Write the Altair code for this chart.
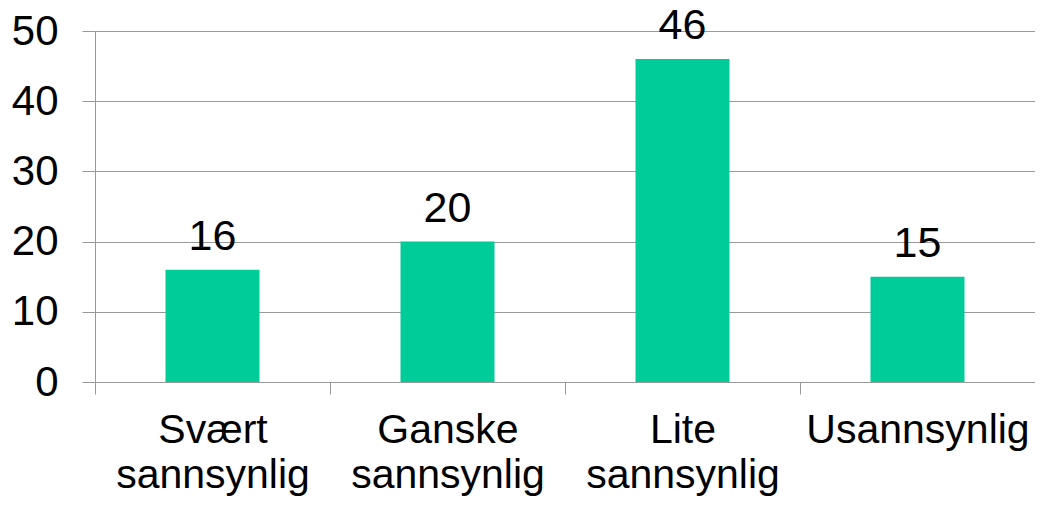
import altair as alt
import pandas as pd

categories = ["Svært sannsynlig", "Ganske sannsynlig", "Lite sannsynlig", "Usannsynlig"]
values = [16, 20, 46, 15]

df = pd.DataFrame({"cat": categories, "val": values})

FONT = "Liberation Sans"
FS = 41

x = alt.X("cat:N", sort=categories, title=None,
          scale=alt.Scale(paddingInner=0, paddingOuter=0),
          axis=alt.Axis(labelAngle=0, labelFont=FONT, labelFontSize=FS, labelColor="black",
                        labelExpr="split(datum.label, ' ')", labelLineHeight=45, labelLimit=0,
                        tickBand="extent", tickSize=12, tickColor="#999999", domainColor="#999999",
                        labelPadding=16, grid=False, labelBaseline="top"))

y = alt.Y("val:Q", title=None,
          scale=alt.Scale(domain=[0, 50]),
          axis=alt.Axis(values=[0, 10, 20, 30, 40, 50], labelFont=FONT, labelFontSize=FS + 1, labelColor="black",
                        tickSize=13, tickColor="#999999", domainColor="#999999",
                        gridColor="#999999", labelPadding=24))

bars = alt.Chart(df).mark_bar(color="#00CC99", width=alt.RelativeBandSize(0.4)).encode(x=x, y=y)
text = alt.Chart(df).mark_text(font=FONT, fontSize=43, baseline="alphabetic", dy=-20, color="black").encode(
    x=alt.X("cat:N", sort=categories), y="val:Q", text="val:Q")

chart = (bars + text).properties(
    width=940, height=351,
    autosize=alt.AutoSizeParams(type="none"),
    padding={"left": 87, "top": 23, "right": 0, "bottom": 116},
).configure_view(stroke=None)

chart.save("out.html", embed_options={"renderer": "svg", "actions": False})
